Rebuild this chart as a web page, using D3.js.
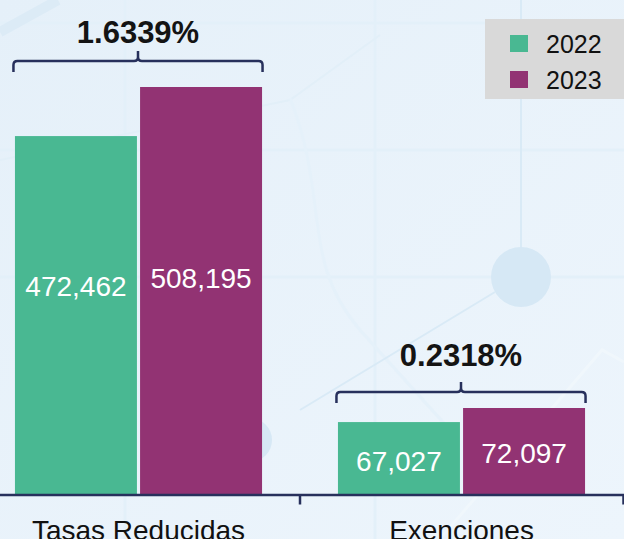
<!DOCTYPE html>
<html>
<head>
<meta charset="utf-8">
<script src="https://cdn.jsdelivr.net/npm/d3@7/dist/d3.min.js"></script>
<style>
	html, body { margin: 0; padding: 0; overflow: hidden; }
	text { font-family: "Liberation Sans", Arial, sans-serif; }
</style>
</head>
<body>
<script>
// datos
var categorias = ["Tasas Reducidas", "Exenciones"];
var anios = ["2022", "2023"];
var valores2022 = [472462, 67027];
var valores2023 = [508195, 72097];
var variaciones = ["1.6339%", "0.2318%"];

var svgW = 624;
var svgH = 539;
var ejeY = 494.5;

var colores = d3.scaleOrdinal()
				.domain(anios)
				.range(["#49b892", "#923373"]);

var colorEje = "#27305c";

// cada grupo tiene su propia escala (el grafico original no parte de cero)
var baseEscala = [211500, 40940];
var topeEscala = [87, 408];
// ajustes de llaves y etiquetas por grupo
var llaveSobreBarra = [26, 16];
var textoSobreLlave = [18, 26];
var etiquetaFrac = [0.59, 0.5];

var svg = d3.select("body")
			.append("svg")
			.attr("width", svgW)
			.attr("height", svgH);

/*
>>>>>>>>>>>>>>>>>>>>>>>>>>>>>>>>>>>>>>>>>>>>>>>>>>>>>>>>>>>>>>>>>>>>>>>> Fondo
*/
var defs = svg.append("defs");
var grad = defs.append("linearGradient")
			.attr("id", "gradFondo")
			.attr("x1", 0).attr("y1", 0).attr("x2", 1).attr("y2", 1);
grad.append("stop").attr("offset", "0%").attr("stop-color", "#e5f0f9");
grad.append("stop").attr("offset", "100%").attr("stop-color", "#edf5fc");

svg.append("rect")
	.attr("width", svgW)
	.attr("height", svgH)
	.attr("fill", "url(#gradFondo)");

var deco = svg.append("g").attr("fill", "none");
[[0, 23, 624, 23], [0, 150, 624, 150], [0, 277, 624, 277], [375, 0, 375, 539], [125, 0, 125, 539]]
	.forEach(function (l) {
		deco.append("line")
			.attr("x1", l[0]).attr("y1", l[1]).attr("x2", l[2]).attr("y2", l[3])
			.attr("stroke", "#e3f0f9").attr("stroke-width", 3);
	});
deco.append("path")
	.attr("d", "M0,32 L58,0")
	.attr("stroke", "#dcebf6").attr("stroke-width", 10);
deco.append("path")
	.attr("d", "M0,160 L290,100 L380,35")
	.attr("stroke", "#e2eff8").attr("stroke-width", 2);
deco.append("path")
	.attr("d", "M290,98 C330,200 300,260 360,330 L450,430")
	.attr("stroke", "#e5f1fa").attr("stroke-width", 3);
deco.append("path")
	.attr("d", "M521,0 V250 M495,292 L300,410")
	.attr("stroke", "#d9eaf6").attr("stroke-width", 2);
deco.append("path")
	.attr("d", "M440,539 L602,350 L624,362")
	.attr("stroke", "#f0f7fc").attr("stroke-width", 3);
deco.append("circle")
	.attr("cx", 521).attr("cy", 277).attr("r", 30)
	.attr("fill", "#d6e8f5");
deco.append("circle")
	.attr("cx", 250).attr("cy", 440).attr("r", 22)
	.attr("fill", "#d6e8f5");

/*
>>>>>>>>>>>>>>>>>>>>>>>>>>>>>>>>>>>>>>>>>>>>>>>>>>>>>>>>>>>>>>>>>>>>>>>> Escalas
*/
var x0 = d3.scaleBand()
			.domain(categorias)
			.range([-23, 623])
			.paddingInner(0.235)
			.paddingOuter(0.1175);

var x1 = d3.scaleBand()
			.domain(anios)
			.range([0, x0.bandwidth()])
			.paddingInner(0.025);

var escalasY = categorias.map(function (c, i) {
	return d3.scaleLinear()
			.domain([baseEscala[i], d3.max([valores2022[i], valores2023[i]])])
			.range([ejeY, topeEscala[i]]);
});

var filas = [];
categorias.forEach(function (c, i) {
	filas.push({ cat: c, idx: i, anio: "2022", valor: valores2022[i] });
	filas.push({ cat: c, idx: i, anio: "2023", valor: valores2023[i] });
});

/*
>>>>>>>>>>>>>>>>>>>>>>>>>>>>>>>>>>>>>>>>>>>>>>>>>>>>>>>>>>>>>>>>>>>>>>>> Barras
*/
svg.selectAll("rect.barra")
	.data(filas)
	.enter()
	.append("rect")
	.attr("class", "barra")
	.attr("x", function (d) { return x0(d.cat) + x1(d.anio); })
	.attr("y", function (d) { return escalasY[d.idx](d.valor); })
	.attr("width", x1.bandwidth())
	.attr("height", function (d) { return ejeY - escalasY[d.idx](d.valor); })
	.attr("fill", function (d) { return colores(d.anio); });

// etiquetas a la misma altura dentro de cada grupo (segun la barra mas baja)
svg.selectAll("text.valor")
	.data(filas)
	.enter()
	.append("text")
	.attr("class", "valor")
	.attr("x", function (d) { return x0(d.cat) + x1(d.anio) + x1.bandwidth() / 2; })
	.attr("y", function (d) {
		var minV = d3.min([valores2022[d.idx], valores2023[d.idx]]);
		var h = ejeY - escalasY[d.idx](minV);
		return ejeY - h * etiquetaFrac[d.idx] + (d.anio == "2023" ? -5 : 3);
	})
	.attr("dy", "0.36em")
	.attr("text-anchor", "middle")
	.attr("font-size", "28px")
	.attr("fill", "#ffffff")
	.text(function (d) { return d3.format(",")(d.valor); });

/*
>>>>>>>>>>>>>>>>>>>>>>>>>>>>>>>>>>>>>>>>>>>>>>>>>>>>>>>>>>>>>>>>>>>>>>>> Llaves
*/
function llave(xa, xb, yl, ye, xm, yt) {
	var r = 4;
	return "M" + xa + "," + ye +
		"V" + (yl + r) + "Q" + xa + "," + yl + " " + (xa + r) + "," + yl +
		"H" + (xm - r) + "Q" + xm + "," + yl + " " + xm + "," + (yl - r) +
		"V" + yt +
		"M" + xm + "," + (yl - r) + "Q" + xm + "," + yl + " " + (xm + r) + "," + yl +
		"H" + (xb - r) + "Q" + xb + "," + yl + " " + xb + "," + (yl + r) +
		"V" + ye;
}

categorias.forEach(function (c, i) {
	var topBarra = escalasY[i](d3.max([valores2022[i], valores2023[i]]));
	var yl = topBarra - llaveSobreBarra[i];
	var xa = x0(c) - 1.5;
	var xb = x0(c) + x0.bandwidth() + 0.5;
	var xm = (xa + xb) / 2;

	svg.append("path")
		.attr("d", llave(xa, xb, yl, yl + 11, xm, yl - 10))
		.attr("fill", "none")
		.attr("stroke", colorEje)
		.attr("stroke-width", 2.5);

	svg.append("text")
		.attr("x", xm)
		.attr("y", yl - textoSobreLlave[i])
		.attr("text-anchor", "middle")
		.attr("font-size", "31px")
		.attr("font-weight", "bold")
		.attr("fill", "#141414")
		.text(variaciones[i]);
});

/*
>>>>>>>>>>>>>>>>>>>>>>>>>>>>>>>>>>>>>>>>>>>>>>>>>>>>>>>>>>>>>>>>>>>>>>>> Eje
*/
var xAxis = d3.axisBottom(x0)
			.tickSizeInner(0)
			.tickSizeOuter(10)
			.tickPadding(26);

var gEje = svg.append("g")
	.attr("transform", "translate(0," + ejeY + ")")
	.call(xAxis);

gEje.select(".domain")
	.attr("stroke", colorEje)
	.attr("stroke-width", 2.5);
gEje.selectAll(".tick text")
	.attr("font-family", "Liberation Sans, Arial, sans-serif")
	.attr("font-size", "28px")
	.attr("fill", "#111111");

// separadores entre categorias
var limites = categorias.slice(1).map(function (c) {
	return x0(c) - (x0.step() - x0.bandwidth()) / 2;
});
gEje.selectAll("line.separador")
	.data(limites)
	.enter()
	.append("line")
	.attr("class", "separador")
	.attr("x1", function (d) { return d; })
	.attr("x2", function (d) { return d; })
	.attr("y1", 0)
	.attr("y2", 10)
	.attr("stroke", colorEje)
	.attr("stroke-width", 2.5);

/*
>>>>>>>>>>>>>>>>>>>>>>>>>>>>>>>>>>>>>>>>>>>>>>>>>>>>>>>>>>>>>>>>>>>>>>>> Leyenda
*/
var leyenda = svg.append("g").attr("transform", "translate(485,19)");
leyenda.append("rect")
	.attr("width", 145)
	.attr("height", 80)
	.attr("fill", "#d9d9d9");

var itemLeyenda = leyenda.selectAll("g.item")
	.data(anios)
	.enter()
	.append("g")
	.attr("class", "item")
	.attr("transform", function (d, i) { return "translate(25," + (16 + i * 36) + ")"; });

itemLeyenda.append("rect")
	.attr("width", 18)
	.attr("height", 17)
	.attr("fill", function (d) { return colores(d); });

itemLeyenda.append("text")
	.attr("x", 36)
	.attr("y", 18)
	.attr("font-size", "25px")
	.attr("fill", "#111111")
	.text(function (d) { return d; });
</script>
</body>
</html>
